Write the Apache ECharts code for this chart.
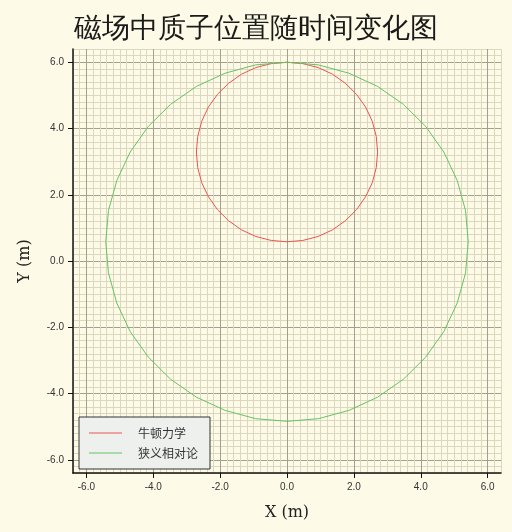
<!DOCTYPE html>
<html>
<head>
<meta charset="utf-8">
<script src="https://cdn.jsdelivr.net/npm/echarts@6/dist/echarts.min.js"></script>
<style>
html,body{margin:0;padding:0;background:#fdfbe7;}
#chart{width:512px;height:532px;}
</style>
</head>
<body>
<div id="chart"></div>
<script>
// 图例名称
var seriesNames = ['牛顿力学', '狭义相对论'];
// 刻度
var xTicks = [-6, -4, -2, 0, 2, 4, 6];
var yTicks = [-6, -4, -2, 0, 2, 4, 6];
// 牛顿力学轨迹 (x, y)
var newtonPts = [
    [0, 6.00], [0.47, 5.96], [0.93, 5.84], [1.36, 5.64], [1.74, 5.37], [2.08, 5.03],
    [2.35, 4.65], [2.55, 4.22], [2.67, 3.76], [2.71, 3.29], [2.67, 2.82], [2.55, 2.36],
    [2.35, 1.94], [2.08, 1.55], [1.74, 1.21], [1.36, 0.94], [0.93, 0.74], [0.47, 0.62],
    [0, 0.58], [-0.47, 0.62], [-0.93, 0.74], [-1.36, 0.94], [-1.74, 1.21], [-2.08, 1.55],
    [-2.35, 1.94], [-2.55, 2.36], [-2.67, 2.82], [-2.71, 3.29], [-2.67, 3.76], [-2.55, 4.22],
    [-2.35, 4.65], [-2.08, 5.03], [-1.74, 5.37], [-1.36, 5.64], [-0.93, 5.84], [-0.47, 5.96],
    [0, 6.00]
];
// 狭义相对论轨迹 (x, y)
var relativityPts = [
    [0, 6.00], [0.94, 5.92], [1.85, 5.67], [2.71, 5.27], [3.48, 4.73], [4.15, 4.06],
    [4.69, 3.29], [5.09, 2.43], [5.34, 1.52], [5.42, 0.58], [5.34, -0.36], [5.09, -1.27],
    [4.69, -2.13], [4.15, -2.90], [3.48, -3.57], [2.71, -4.11], [1.85, -4.51], [0.94, -4.76],
    [0, -4.84], [-0.94, -4.76], [-1.85, -4.51], [-2.71, -4.11], [-3.48, -3.57], [-4.15, -2.90],
    [-4.69, -2.13], [-5.09, -1.27], [-5.34, -0.36], [-5.42, 0.58], [-5.34, 1.52], [-5.09, 2.43],
    [-4.69, 3.29], [-4.15, 4.06], [-3.48, 4.73], [-2.71, 5.27], [-1.85, 5.67], [-0.94, 5.92],
    [0, 6.00]
];

var chart = echarts.init(document.getElementById('chart'));

var axisMin = -6.4, axisMax = 6.4;
// 细网格线位置, 每 0.2 一条
var minorVals = [];
for (var i = -32; i <= 32; i++) minorVals.push(+(i * 0.2).toFixed(1));

// 细网格 (只画线)
function minorAxis(pos){
    return {
        type: 'value',
        position: pos,
        min: axisMin,
        max: axisMax,
        axisLine: {show: false},
        axisTick: {show: false, customValues: minorVals},
        axisLabel: {show: false, customValues: minorVals},
        splitLine: {show: true, lineStyle: {color: '#dcd8be', width: 1}}
    };
}

// 主坐标轴 (刻度, 标签, 粗网格)
function mainAxis(ticks, name, isX){
    return {
        type: 'value',
        position: isX ? 'bottom' : 'left',
        min: axisMin,
        max: axisMax,
        name: name,
        nameLocation: 'middle',
        nameGap: isX ? 32 : 40,
        nameTextStyle: {
            fontFamily: 'DejaVu Serif',
            fontSize: 16,
            color: '#222'
        },
        axisLine: {show: true, onZero: false, lineStyle: {color: '#111', width: 1.5}},
        axisTick: {show: true, length: 5, customValues: ticks, lineStyle: {color: '#111'}},
        axisLabel: {
            customValues: ticks,
            margin: 9,
            fontFamily: 'Liberation Sans',
            fontSize: 10,
            color: '#333',
            formatter: function (v) { return v.toFixed(1); }
        },
        splitLine: {show: true, lineStyle: {color: '#a3a18c', width: 1}}
    };
}

var option = {
    backgroundColor: '#fdfbe7',
    animation: false,
    title: {
        text: '磁场中质子位置随时间变化图',
        left: 'center',
        top: 11,
        textStyle: {
            fontFamily: 'serif',
            fontSize: 28,
            fontWeight: 'normal',
            color: '#1a1a1a'
        }
    },
    legend: {
        data: seriesNames,
        orient: 'vertical',
        left: 79,
        top: 417,
        padding: [9, 12, 9, 10],
        icon: 'rect',
        itemWidth: 33,
        itemHeight: 1,
        itemGap: 6,
        backgroundColor: '#eef0ee',
        borderColor: '#333',
        borderWidth: 1,
        textStyle: {
            fontFamily: 'Noto Sans CJK SC',
            fontSize: 12,
            lineHeight: 14,
            color: '#333',
            padding: [0, 0, 0, 11]
        }
    },
    grid: {
        left: 73,
        right: 11,
        top: 49,
        bottom: 59,
        containLabel: false
    },
    xAxis: [minorAxis('top'), mainAxis(xTicks, 'X (m)', true)],
    yAxis: [minorAxis('right'), mainAxis(yTicks, 'Y (m)', false)],
    series: [
        {
            name: seriesNames[0],
            type: 'line',
            xAxisIndex: 1,
            yAxisIndex: 1,
            data: newtonPts,
            symbol: 'none',
            showSymbol: false,
            color: '#ef5350',
            lineStyle: {width: 1, color: '#ef5350'}
        },
        {
            name: seriesNames[1],
            type: 'line',
            xAxisIndex: 1,
            yAxisIndex: 1,
            data: relativityPts,
            symbol: 'none',
            showSymbol: false,
            color: '#66c266',
            lineStyle: {width: 1, color: '#66c266'}
        }
    ]
};
chart.setOption(option);
</script>
</body>
</html>
